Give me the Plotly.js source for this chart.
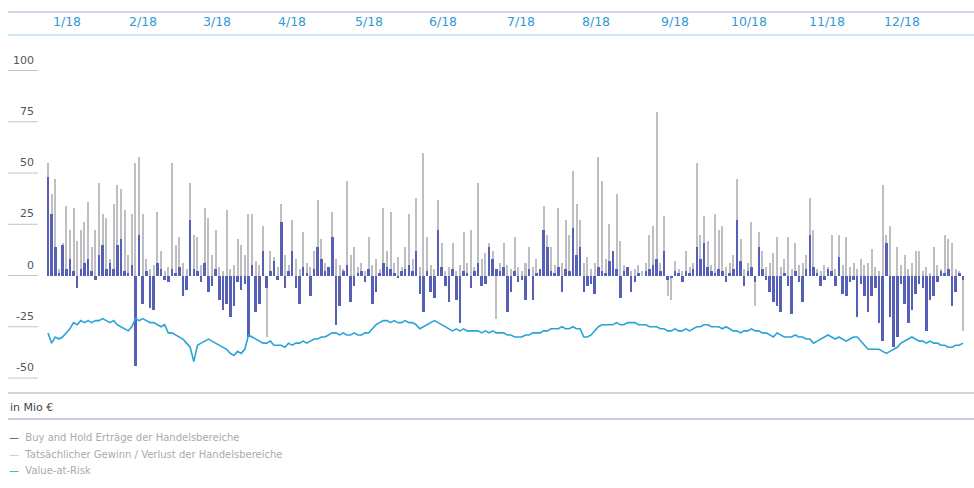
<!DOCTYPE html>
<html>
<head>
<meta charset="utf-8">
<script src="https://cdn.plot.ly/plotly-3.0.1.min.js"></script>
<style>html,body{margin:0;padding:0;background:#fff}#chart{width:974px;height:488px}</style>
</head>
<body>
<div id="chart"></div>
<script>
// Month labels and their positions (trading-day index)
const monthLabels = ['1/18','2/18','3/18','4/18','5/18','6/18','7/18','8/18','9/18','10/18','11/18','12/18'];
const monthPos = [5.2, 26, 46.4, 66.9, 88, 108.5, 129.8, 150.3, 171.9, 192.3, 213.7, 234.2];
const yTicks = [100, 75, 50, 25, 0, -25, -50];

// Tatsächlicher Gewinn / Verlust der Handelsbereiche (Mio €), daily
const actual = [
  55,40,47,3,16,34,22,33,17,22,26,36,14,22,45,30,28,8,35,44,42,32,10,30,
  55,58,30,8,3,5,31,12,2,4,55,15,19,6,3,45,20,19,5,33,
  28,10,22,4,2,32,3,5,18,15,10,30,30,7,5,24,-30,12,9,4,
  35,10,5,27,8,3,21,6,4,12,37,18,6,3,31,8,5,3,46,10,
  14,4,6,2,19,5,8,3,33,12,31,6,9,4,14,30,8,38,4,60,19,
  5,3,37,16,2,4,16,2,5,21,6,22,4,45,8,11,16,12,-21,6,16,
  5,3,19,4,2,6,14,4,8,3,34,20,14,5,33,6,27,20,51,35,27,6,
  9,3,6,58,46,8,25,10,40,17,5,4,2,3,5,2,6,20,24,80,6,29,-10,
  -12,7,3,2,12,4,6,55,20,29,17,5,30,22,24,4,6,10,47,18,
  3,6,26,-15,21,12,4,6,11,19,4,8,19,3,16,5,6,10,38,22,3,2,5,
  4,20,3,20,5,19,4,6,3,8,5,6,13,4,2,44,20,24,-32,14,5,10,
  3,6,12,12,2,4,1,14,5,3,20,18,16,3,2,-27
];

// Buy and Hold Erträge der Handelsbereiche (Mio €), daily
const buyHold = [
  48,30,14,1,15,3,8,2,-6,3,6,8,2,-2,10,15,3,6,3,15,18,2,1,5,
  -44,20,-14,2,-16,-17,6,3,-2,-3,3,1,4,-10,-7,27,3,2,-3,6,
  -8,-5,3,-12,-17,-14,-20,-15,-3,-7,-4,-30,5,-18,-14,12,-6,2,7,-2,
  26,-6,2,12,-6,-14,4,1,-10,3,14,8,2,4,19,-24,-15,2,5,-13,
  -5,1,2,-3,3,-14,-8,1,6,4,3,1,-1,2,3,5,2,12,-9,-18,2,
  -8,-11,22,4,-5,-13,3,-12,-23,2,1,-6,2,6,-5,-4,14,8,3,2,4,
  -18,-8,2,-3,-2,-12,3,-12,1,3,22,14,2,1,4,-8,3,2,23,10,14,-8,
  -5,-4,-9,4,2,1,7,12,3,-11,2,4,-8,-3,1,0,2,3,5,8,2,12,-2,
  -1,2,1,-3,2,1,3,14,8,16,4,2,1,3,2,-3,1,3,27,7,
  -5,2,4,-3,14,3,-2,-8,-13,-15,-18,1,-5,-19,2,-3,-13,3,20,4,1,-5,-2,
  3,2,-5,9,-9,-10,-3,-2,-20,-4,-10,-18,-10,-6,-23,-32,16,-20,-35,-30,-4,-14,
  -23,-17,-9,-4,-6,-27,-12,-10,-3,2,1,3,-15,-8,1,-2
];

// Value-at-Risk (Mio €), daily
const valueAtRisk = [
  -28,-33,-30,-31,-30,-28,-26,-23,-24,-22,-23,-22,
  -23,-22,-22,-21,-22,-23,-22,-24,-25,-26,-27,-25,
  -21,-22,-21,-22,-23,-23,-24,-25,-24,-28,-28,-29,
  -30,-31,-33,-35,-42,-34,-33,-32,-31,-32,-33,-34,
  -35,-36,-38,-39,-37,-38,-36,-29,-30,-31,-32,-33,
  -33,-32,-34,-34,-34,-35,-33,-34,-33,-33,-32,-33,
  -32,-31,-31,-30,-30,-29,-28,-28,-29,-28,-29,-29,
  -28,-29,-29,-28,-28,-26,-24,-23,-22,-22,-23,-22,
  -23,-23,-22,-23,-23,-24,-26,-25,-24,-23,-22,-23,
  -24,-25,-26,-27,-26,-27,-26,-27,-27,-27,-27,-28,
  -27,-28,-27,-28,-28,-28,-29,-29,-30,-30,-30,-29,
  -29,-28,-28,-28,-27,-27,-26,-26,-26,-25,-26,-26,
  -25,-26,-26,-30,-30,-29,-27,-25,-24,-24,-24,-24,
  -23,-24,-24,-23,-23,-23,-24,-24,-24,-25,-25,-25,
  -26,-26,-27,-27,-26,-27,-27,-26,-27,-26,-25,-25,
  -24,-24,-25,-25,-25,-26,-25,-26,-27,-27,-28,-27,
  -27,-26,-27,-27,-28,-28,-29,-30,-28,-29,-30,-30,
  -30,-29,-30,-30,-31,-31,-33,-32,-31,-30,-29,-30,
  -31,-30,-31,-32,-31,-30,-30,-32,-34,-36,-36,-36,
  -36,-37,-38,-37,-36,-35,-33,-32,-31,-30,-31,-32,
  -32,-33,-32,-33,-33,-34,-34,-35,-35,-34,-34,-33
];

const legendNames = [
  'Buy and Hold Erträge der Handelsbereiche',
  'Tatsächlicher Gewinn / Verlust der Handelsbereiche',
  'Value-at-Risk'
];
const colBlue = '#5560b6', colGrey = '#bfbfc3', colVaR = '#2aa3d6';
const legendColors = ['#4a5088', '#c8c8c8', colVaR];

const W = 974, H = 488;
const px = x => x / W;          // pixel -> paper x (margins are zero)
const py = y => 1 - y / H;      // pixel -> paper y
const days = actual.map((_, i) => i);

const traces = [
  {type:'bar', x:days, y:actual, width:0.55, marker:{color:colGrey, line:{width:0}}, hoverinfo:'skip', name:legendNames[1]},
  {type:'bar', x:days, y:buyHold, width:0.7, marker:{color:colBlue, line:{width:0}}, hoverinfo:'skip', name:legendNames[0]},
  {type:'scatter', mode:'lines', x:days, y:valueAtRisk, line:{color:colVaR, width:1.6}, hoverinfo:'skip', name:legendNames[2]}
];

const font = 'DejaVu Sans, Liberation Sans, Arial, sans-serif';
const annotations = [];
const shapes = [];

monthLabels.forEach((m, k) => annotations.push({
  text:m, x:monthPos[k], xref:'x', y:py(22), yref:'paper', xanchor:'center', yanchor:'middle',
  showarrow:false, font:{family:font, size:12.5, color:'#3399d6'}
}));

yTicks.forEach(v => {
  annotations.push({
    text:String(v), x:px(36), xref:'paper', y:v, yref:'y', xanchor:'right', yanchor:'bottom', yshift:2,
    showarrow:false, font:{family:font, size:11, color:'#555'}
  });
  shapes.push({type:'line', xref:'paper', yref:'y', x0:px(8), x1:px(38), y0:v, y1:v, line:{color:'#c4c4c4', width:1}});
});

// horizontal rules
shapes.push({type:'line', xref:'paper', yref:'paper', x0:px(8), x1:1, y0:py(12), y1:py(12), line:{color:'#a8acd2', width:1.2}});
shapes.push({type:'line', xref:'paper', yref:'paper', x0:px(8), x1:1, y0:py(35), y1:py(35), line:{color:'#bfe4f4', width:1.5}});
shapes.push({type:'line', xref:'paper', yref:'paper', x0:px(8), x1:1, y0:py(393), y1:py(393), line:{color:'#c8c8c8', width:1.5}});
shapes.push({type:'line', xref:'paper', yref:'paper', x0:px(8), x1:1, y0:py(419), y1:py(419), line:{color:'#b7bbdc', width:1.5}});

annotations.push({
  text:'in Mio €', x:px(8), xref:'paper', y:py(407), yref:'paper', xanchor:'left', yanchor:'middle',
  showarrow:false, font:{family:font, size:11, color:'#444'}
});

const legendY = [437, 454, 470];
legendNames.forEach((n, k) => annotations.push({
  text:'<span style="color:' + legendColors[k] + '">—</span>  ' + n,
  x:px(7), xref:'paper', y:py(legendY[k]), yref:'paper', xanchor:'left', yanchor:'middle',
  showarrow:false, font:{family:font, size:10, color:'#aaaaaa'}
}));

const layout = {
  width:W, height:H,
  margin:{l:0, r:0, t:0, b:0, pad:0},
  paper_bgcolor:'#fff', plot_bgcolor:'#fff',
  barmode:'overlay', bargap:0,
  showlegend:false,
  xaxis:{range:[-48/3.645, (974-48)/3.645], showgrid:false, zeroline:false, showticklabels:false, ticks:'', showline:false, fixedrange:true},
  yaxis:{range:[(275.5-488)/2.05, 275.5/2.05], showgrid:false, zeroline:false, showticklabels:false, ticks:'', showline:false, fixedrange:true},
  annotations:annotations,
  shapes:shapes
};

Plotly.newPlot('chart', traces, layout, {staticPlot:true, displayModeBar:false});
</script>
</body>
</html>
